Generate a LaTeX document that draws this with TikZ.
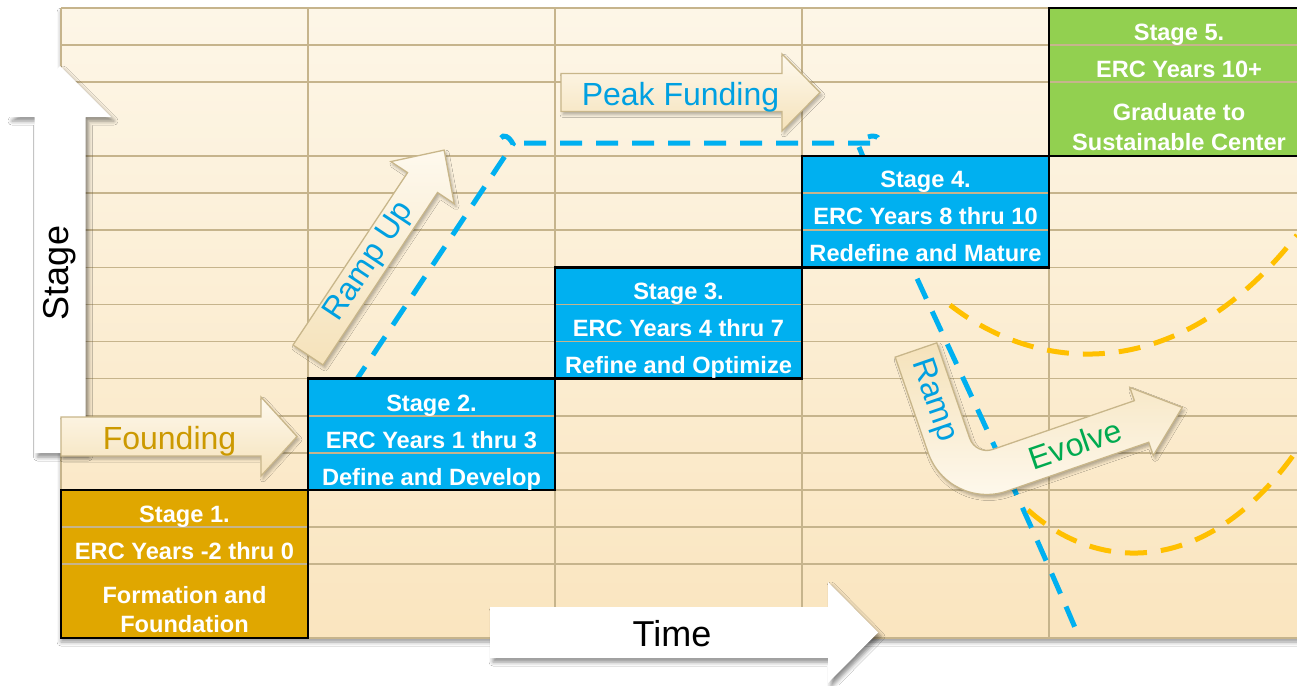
\documentclass[tikz,border=0pt]{standalone}
\usepackage{fontspec}
\setmainfont{Liberation Sans}
\usetikzlibrary{shadows.blur}

\definecolor{gridtan}{RGB}{198,180,140}
\definecolor{bgtop}{RGB}{253,246,231}
\definecolor{bgbot}{RGB}{250,229,191}
\definecolor{stgold}{RGB}{224,167,0}
\definecolor{stblue}{RGB}{0,176,240}
\definecolor{stgreen}{RGB}{146,208,80}
\definecolor{txtblue}{RGB}{0,160,225}
\definecolor{txtgold}{RGB}{204,153,0}
\definecolor{txtgreen}{RGB}{0,170,80}
\definecolor{dashorange}{RGB}{255,192,0}
\definecolor{creamlt}{RGB}{254,249,238}
\definecolor{creamdk}{RGB}{245,226,186}
\definecolor{creamedge}{RGB}{200,182,138}

\tikzset{
  gridline/.style={draw=gridtan, line width=1.8pt},
  stageborder/.style={draw=black, line width=2.5pt},
  stagetext/.style={text=white, font=\fontsize{23.6}{28}\selectfont\bfseries, anchor=base, inner sep=0pt},
  arrowtext/.style={font=\fontsize{32}{38}\selectfont, inner sep=0pt},
  axistext/.style={font=\fontsize{36}{42}\selectfont, inner sep=0pt, text=black},
  creamarrow/.style={draw=creamedge, line width=1.3pt, top color=creamlt, bottom color=creamdk,
    blur shadow={shadow xshift=2pt, shadow yshift=-3pt, shadow blur radius=3pt, shadow opacity=30}},
  whitearrow/.style={fill=white,
    blur shadow={shadow xshift=3pt, shadow yshift=-4pt, shadow blur radius=4pt, shadow opacity=45}},
  bluedash/.style={draw=stblue, line width=5pt, dash pattern=on 22pt off 14pt},
  orangedash/.style={draw=dashorange, line width=5pt, dash pattern=on 22pt off 14pt},
}

\begin{document}
\begin{tikzpicture}[x=1pt,y=-1pt]
\useasboundingbox (0,0) rectangle (1297,685);
\clip (0,0) rectangle (1297,685);
\fill[white] (0,0) rectangle (1297,685);

% table background
\path[top color=bgtop, bottom color=bgbot,
  blur shadow={shadow xshift=0pt, shadow yshift=-4pt, shadow blur radius=4pt, shadow opacity=40}]
  (61,8) rectangle (1310,638);

% grid
\foreach \yy in {8,45.06,82.12,156.24,193.3,230.35,267.41,304.47,341.53,378.59,415.65,452.71,489.76,526.82,563.88,638}
  \draw[gridline] (61,\yy) -- (1310,\yy);
\foreach \xx in {61,308,555,802,1049}
  \draw[gridline] (\xx,8) -- (\xx,638);

% funding path and evolution curves
\draw[bluedash] (353,385) -- (513,144) .. controls (509,136) and (503,134) .. (501,138);
\draw[bluedash] (524,143) -- (878,143) .. controls (882,139) and (876,134) .. (868,137);
\draw[bluedash] (859,147) .. controls (905,260) and (1000,450) .. (1076,630);
\draw[orangedash] (950,305) .. controls (1040,375) and (1180,385) .. (1297,235);
\draw[orangedash] (1028,510) .. controls (1100,575) and (1210,575) .. (1297,450);

% stage cells
\fill[stgold] (61,489.76) rectangle (308,638);
\draw[gridline] (61,526.82) -- (308,526.82) (61,563.88) -- (308,563.88);
\draw[stageborder] (61,489.76) rectangle (308,638);

\fill[stblue] (308,378.59) rectangle (555,489.76);
\draw[gridline] (308,415.65) -- (555,415.65) (308,452.71) -- (555,452.71);
\draw[stageborder] (308,378.59) rectangle (555,489.76);

\fill[stblue] (555,267.41) rectangle (802,378.59);
\draw[gridline] (555,304.47) -- (802,304.47) (555,341.53) -- (802,341.53);
\draw[stageborder] (555,267.41) rectangle (802,378.59);

\fill[stblue] (802,156.24) rectangle (1049,267.41);
\draw[gridline] (802,193.3) -- (1049,193.3) (802,230.35) -- (1049,230.35);
\draw[stageborder] (802,156.24) rectangle (1049,267.41);

\fill[stgreen] (1049,8) rectangle (1310,156.24);
\draw[gridline] (1049,45.06) -- (1310,45.06) (1049,82.12) -- (1310,82.12);
\draw[stageborder] (1049,8) rectangle (1310,156.24);

% stage texts
\node[stagetext] (s1a) at (184.5,522.3) {Stage 1.};
\node[stagetext] (s1b) at (184.5,559.2) {ERC Years -2 thru 0};
\node[stagetext] (s1c) at (184.5,603) {Formation and};
\node[stagetext] (s1d) at (184.5,632.5) {Foundation};

\node[stagetext] (s2a) at (431.5,411) {Stage 2.};
\node[stagetext] (s2b) at (431.5,448) {ERC Years 1 thru 3};
\node[stagetext] (s2c) at (431.5,485) {Define and Develop};

\node[stagetext] (s3a) at (678.5,299.8) {Stage 3.};
\node[stagetext] (s3b) at (678.5,336.8) {ERC Years 4 thru 7};
\node[stagetext] (s3c) at (678.5,373.8) {Refine and Optimize};

\node[stagetext] (s4a) at (925.5,187.8) {Stage 4.};
\node[stagetext] (s4b) at (925.5,224.8) {ERC Years 8 thru 10};
\node[stagetext] (s4c) at (925.5,261.5) {Redefine and Mature};

\node[stagetext] (s5a) at (1179,40.5) {Stage 5.};
\node[stagetext] (s5b) at (1179,77.3) {ERC Years 10+};
\node[stagetext] (s5c) at (1179,120.7) {Graduate to};
\node[stagetext] (s5d) at (1179,150) {Sustainable Center};

% vertical axis arrow
\path[whitearrow] (34.5,453) -- (34.5,117) -- (9,117) -- (60,66) -- (111,117) -- (85.5,117) -- (85.5,453) -- cycle;
\node[axistext, rotate=90] (stagelbl) at (60,273) {Stage};

% horizontal axis arrow
\path[whitearrow] (490,607) -- (828,607) -- (828,582) -- (878,632.5) -- (828,683) -- (828,658) -- (490,658) -- cycle;
\node[axistext, anchor=base] (timelbl) at (672,646) {Time};

% founding arrow
\path[creamarrow] (61,417) -- (261,417) -- (261,397) -- (297,436.5) -- (261,476) -- (261,456) -- (61,456) -- cycle;
\node[arrowtext, text=txtgold, anchor=base] (founding) at (169.5,449) {Founding};

% peak funding arrow
\path[creamarrow] (561,73.5) -- (782,73.5) -- (782,54) -- (820,92.5) -- (782,131) -- (782,111.5) -- (561,111.5) -- cycle;
\node[arrowtext, text=txtblue, anchor=base] (peak) at (680.5,105) {Peak Funding};

% ramp up arrow
\begin{scope}[shift={(308,355)}, rotate=56.4]
  \path[creamarrow] (0,-18) -- (207,-18) -- (207,-38) -- (246,0) -- (207,38) -- (207,18) -- (0,18) -- cycle;
  \node[arrowtext, text=txtblue, rotate=56.4] (rampup) at (112,0) {Ramp Up};
\end{scope}

% bent ramp / evolve arrow
\begin{scope}[shift={(916,350)}, rotate=19]
  \path[creamarrow, top color=creamdk, bottom color=creamlt]
    (-22,0) -- (-22,101) .. controls (-22,135.2) and (5.8,163) .. (40,163)
    -- (190,163) -- (190,177) -- (233,141) -- (190,105) -- (190,119) -- (40,119)
    .. controls (30.1,119) and (22,110.9) .. (22,101) -- (22,0) -- cycle;
  \node[arrowtext, text=txtblue, rotate=-71] (ramp) at (0,53) {Ramp};
  \node[arrowtext, text=txtgreen, rotate=19] (evolve) at (120,141) {Evolve};
\end{scope}
\end{tikzpicture}
\end{document}
